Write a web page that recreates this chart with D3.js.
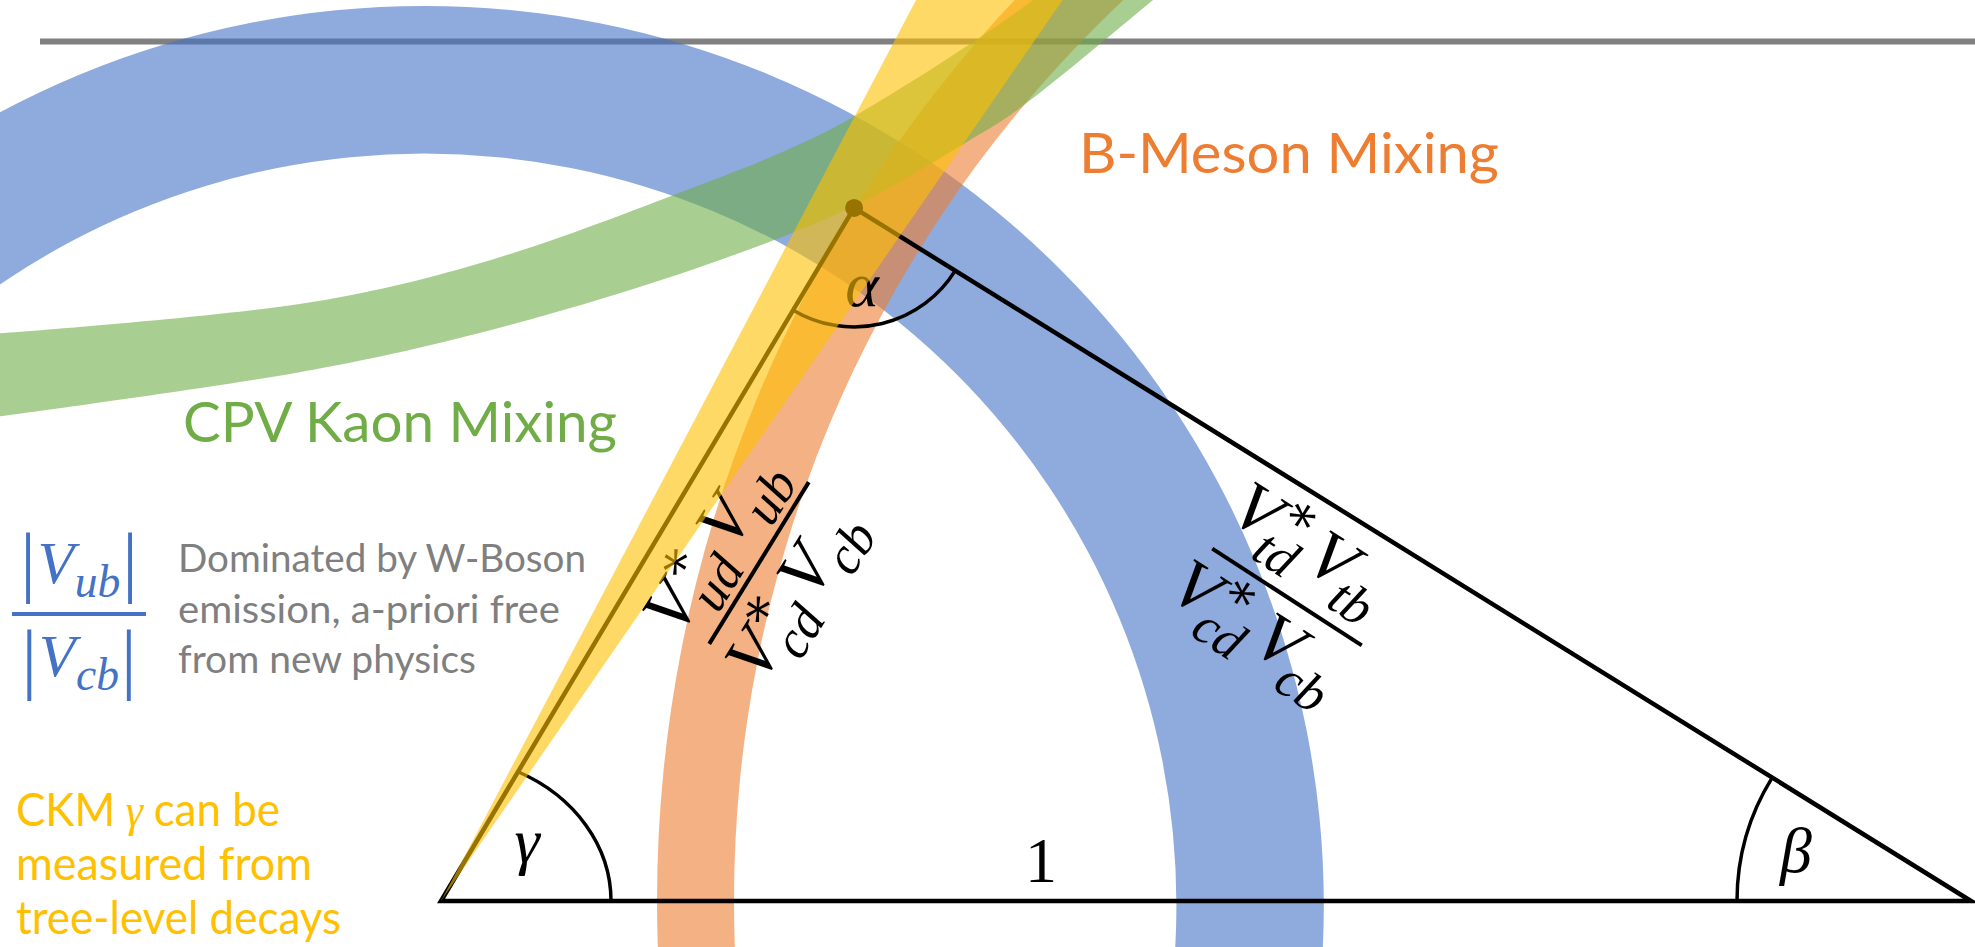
<!DOCTYPE html>
<html>
<head>
<meta charset="utf-8">
<script src="https://cdn.jsdelivr.net/npm/d3@7"></script>
<style>
  html, body { margin: 0; padding: 0; background: #fff; overflow: hidden; }
  svg { display: block; }
</style>
</head>
<body>
<svg id="chart" width="1975" height="947"></svg>
<script>
// Unitarity triangle in the (rho-bar, eta-bar) plane, base normalised to 1
const triangle = [[0, 0], [1, 0], [0.270, 0.453]];          // gamma vertex, beta vertex, apex (alpha)
// |Vub|/|Vcb| ring: centre rho, centre eta, inner radius, outer radius
const ringVub = [-0.011, -0.003, 0.4915, 0.588];
// B-meson mixing ring
const ringMixing = [1, 0, 0.8085, 0.8588];
// gamma from tree-level decays: wedge at the origin, bounding angles (degrees)
const gammaWedge = [55.4, 62.2];
// CP violation in kaon mixing: band edges
const kaonUpper = [[-0.302, 0.370], [-0.0843, 0.3915], [0.0327, 0.4190], [0.1693, 0.4680],
                   [0.2261, 0.4908], [0.2693, 0.5124], [0.3869, 0.5889], [0.4307, 0.6281]];
const kaonLower = [[-0.302, 0.315], [-0.0843, 0.3471], [0.0327, 0.3732], [0.1693, 0.4144],
                   [0.2699, 0.4542], [0.3458, 0.4974], [0.3739, 0.5150], [0.4654, 0.5889], [0.4961, 0.6150]];
// side texts
const infoLines = ["Dominated by W-Boson", "emission, a-priori free", "from new physics"];
const gammaLines = [["CKM", "γ", "can be"], ["measured from"], ["tree-level decays"]];
const bandTitles = ["B-Meson Mixing", "CPV Kaon Mixing"];

const W = 1975, H = 947;
const svg = d3.select("#chart");
const x = d3.scaleLinear().domain([0, 1]).range([441, 1971]);
const y = d3.scaleLinear().domain([0, 1]).range([901, 901 - 1530]);
const k = x(1) - x(0);

const MATH = "'Liberation Serif', 'DejaVu Serif', serif";
const SANS = "Lato, 'Open Sans', sans-serif";
const C_BLUE = "#4472C4", C_ORANGE = "#ED7D31", C_GREEN = "#70AD47", C_YELLOW = "#FFC000", C_GRAY = "#7F7F7F";

// horizontal rule
svg.append("line")
  .attr("x1", 40).attr("x2", W).attr("y1", 41.5).attr("y2", 41.5)
  .attr("stroke", "#808080").attr("stroke-width", 6);

// constraint rings
function ring(r, color) {
  const arc = d3.arc().innerRadius(r[2] * k).outerRadius(r[3] * k)
    .startAngle(0).endAngle(2 * Math.PI);
  svg.append("path")
    .attr("transform", `translate(${x(r[0])},${y(r[1])})`)
    .attr("d", arc())
    .attr("fill", color).attr("fill-opacity", 0.6);
}
ring(ringVub, C_BLUE);
ring(ringMixing, C_ORANGE);

// kaon band
const edge = d3.line().x(d => x(d[0])).y(d => y(d[1])).curve(d3.curveCatmullRom.alpha(0.5));
const upPath = edge(kaonUpper);
const loPath = edge(kaonLower.slice().reverse());
svg.append("path")
  .attr("d", upPath + "L" + loPath.slice(1) + "Z")
  .attr("fill", C_GREEN).attr("fill-opacity", 0.6);

// triangle
const P = triangle.map(d => [x(d[0]), y(d[1])]);
const [A, B, Cp] = P;
const tri = svg.append("g");
tri.append("path")
  .attr("d", d3.line()(P) + "Z")
  .attr("fill", "none").attr("stroke", "#000").attr("stroke-width", 4.5)
  .attr("stroke-linejoin", "miter").attr("stroke-miterlimit", 10);

// angle arcs
const gammaAng = Math.atan2(A[1] - Cp[1], Cp[0] - A[0]);
const rx = 170, ry = 145;
const tG = Math.atan((rx / ry) * Math.tan(gammaAng));
tri.append("path")
  .attr("d", `M${A[0] + rx},${A[1]} A${rx},${ry} 0 0 0 ${A[0] + rx * Math.cos(tG)},${A[1] - ry * Math.sin(tG)}`)
  .attr("fill", "none").attr("stroke", "#000").attr("stroke-width", 3.5);

const betaAng = Math.atan2(B[1] - Cp[1], B[0] - Cp[0]);
const pb = d3.path();
pb.arc(B[0], B[1], 234, Math.PI, Math.PI + betaAng, false);
tri.append("path").attr("d", pb.toString())
  .attr("fill", "none").attr("stroke", "#000").attr("stroke-width", 3.5);

const toB = Math.atan2(B[1] - Cp[1], B[0] - Cp[0]);
const toA = Math.atan2(A[1] - Cp[1], A[0] - Cp[0]);
const pa = d3.path();
pa.moveTo(Cp[0] + 119 * Math.cos(toB), Cp[1] + 119 * Math.sin(toB));
pa.arc(Cp[0], Cp[1], 119, toB, toA, false);
tri.append("path").attr("d", pa.toString())
  .attr("fill", "none").attr("stroke", "#000").attr("stroke-width", 3.5);

tri.append("circle").attr("cx", Cp[0]).attr("cy", Cp[1]).attr("r", 9).attr("fill", "#000");

// angle / side symbols
function sym(txt, cx, base, italic) {
  tri.append("text").attr("x", cx).attr("y", base)
    .attr("text-anchor", "middle")
    .attr("font-family", MATH).attr("font-style", italic ? "italic" : "normal")
    .attr("font-size", 64).attr("fill", "#000").text(txt);
}
sym("α", 862, 306, true);
sym("γ", 527, 862, true);
sym("β", 1796, 872, true);
sym("1", 1041, 882, false);

// typeset a row of symbols with sub/superscripts
function mathRow(g, tokens, F, base, color, shift) {
  const row = g.append("g");
  let cx = 0;
  tokens.forEach(tk => {
    const size = F * (tk.scale || 1);
    const main = row.append("text").attr("x", cx).attr("y", base + (tk.dy || 0) * F)
      .attr("font-family", MATH).attr("font-style", tk.up ? "normal" : "italic")
      .attr("font-size", size).attr("fill", color).text(tk.t);
    cx += main.node().getComputedTextLength();
    const kern = tk.kern !== undefined ? tk.kern : -0.04;
    let adv = 0;
    if (tk.sup) {
      const s = row.append("text").attr("x", cx + 0.03 * F).attr("y", base - 0.38 * F)
        .attr("font-family", MATH).attr("font-size", 0.74 * F).attr("fill", color).text(tk.sup);
      adv = Math.max(adv, s.node().getComputedTextLength() + 0.03 * F);
    }
    if (tk.sub) {
      const s = row.append("text").attr("x", cx + kern * F).attr("y", base + (tk.subShift || 0.30) * F)
        .attr("font-family", MATH).attr("font-style", "italic")
        .attr("font-size", 0.76 * F).attr("fill", color).text(tk.sub);
      adv = Math.max(adv, s.node().getComputedTextLength() + kern * F);
    }
    cx += adv + (tk.gap !== undefined ? tk.gap : 0.12) * F;
  });
  row.attr("transform", `translate(${-cx / 2 + (shift || 0)},0)`);
  return row;
}

function fraction(cx, cy, angle, num, den, F, barLen, numBase, denBase, color, shift) {
  const g = svg.append("g").attr("transform", `translate(${cx},${cy}) rotate(${angle})`);
  g.append("line").attr("x1", -barLen / 2).attr("x2", barLen / 2).attr("y1", 0).attr("y2", 0)
    .attr("stroke", color).attr("stroke-width", 4);
  mathRow(g, num, F, numBase, color, shift);
  mathRow(g, den, F, denBase, color, shift);
  return g;
}

fraction(759, 563, -58.4,
  [{ t: "V", sup: "∗", sub: "ud" }, { t: "V", sub: "ub", gap: 0 }],
  [{ t: "V", sup: "∗", sub: "cd" }, { t: "V", sub: "cb", gap: 0 }],
  70, 190, -29, 66, "#000", -8);

fraction(1287, 597, 32.9,
  [{ t: "V", sup: "∗", sub: "td" }, { t: "V", sub: "tb", gap: 0 }],
  [{ t: "V", sup: "∗", sub: "cd" }, { t: "V", sub: "cb", gap: 0 }],
  70, 178, -34, 64, "#000", -8);

// gamma wedge on top
const wedge = d3.arc().innerRadius(0).outerRadius(1500)
  .startAngle((90 - gammaWedge[1]) * Math.PI / 180)
  .endAngle((90 - gammaWedge[0]) * Math.PI / 180);
svg.append("path")
  .attr("transform", `translate(${x(0)},${y(0)})`)
  .attr("d", wedge())
  .attr("fill", C_YELLOW).attr("fill-opacity", 0.6);

// band titles
svg.append("text").attr("x", 1079).attr("y", 173)
  .attr("font-family", SANS).attr("font-size", 57).attr("fill", C_ORANGE)
  .attr("textLength", 420).attr("lengthAdjust", "spacingAndGlyphs").text(bandTitles[0]);
svg.append("text").attr("x", 183).attr("y", 442)
  .attr("font-family", SANS).attr("font-size", 57).attr("fill", C_GREEN)
  .attr("textLength", 434).attr("lengthAdjust", "spacingAndGlyphs").text(bandTitles[1]);

// |Vub| / |Vcb|
fraction(79, 614, 0,
  [{ t: "|", up: true, scale: 1.3, dy: 0.06, gap: 0.03 }, { t: "V", sub: "ub", subShift: 0.23, kern: 0.01, gap: 0.03 }, { t: "|", up: true, scale: 1.3, dy: 0.06, gap: 0 }],
  [{ t: "|", up: true, scale: 1.3, dy: 0.13, gap: 0.03 }, { t: "V", sub: "cb", subShift: 0.23, kern: 0.01, gap: 0.03 }, { t: "|", up: true, scale: 1.3, dy: 0.13, gap: 0 }],
  60, 134, -31, 62, C_BLUE, 0);

// explanatory text
const infoLens = [408, 382, 298];
infoLines.forEach((t, i) => {
  svg.append("text").attr("x", 178).attr("y", 572 + i * 50.5)
    .attr("font-family", SANS).attr("font-size", 39).attr("fill", C_GRAY)
    .attr("textLength", infoLens[i]).attr("lengthAdjust", "spacingAndGlyphs").text(t);
});

const gammaLens = [264, 296, 325];
gammaLines.forEach((parts, i) => {
  const base = 826 + i * 54;
  if (parts.length === 1) {
    svg.append("text").attr("x", 16).attr("y", base)
      .attr("font-family", SANS).attr("font-size", 46).attr("fill", C_YELLOW)
      .attr("textLength", gammaLens[i]).attr("lengthAdjust", "spacingAndGlyphs").text(parts[0]);
    return;
  }
  // mixed line: words and the italic symbol set side by side, then squeezed to width
  const g = svg.append("g");
  let cx = 0;
  const space = 0.24 * 46;
  parts.forEach((p, j) => {
    const isSym = p === "γ";
    const t = g.append("text").attr("x", cx).attr("y", 0)
      .attr("font-family", isSym ? MATH : SANS).attr("font-style", isSym ? "italic" : "normal")
      .attr("font-size", 46).attr("fill", C_YELLOW).text(p);
    cx += t.node().getComputedTextLength() + (j < parts.length - 1 ? space : 0);
  });
  g.attr("transform", `translate(16,${base}) scale(${gammaLens[i] / cx},1)`);
});
</script>
</body>
</html>
